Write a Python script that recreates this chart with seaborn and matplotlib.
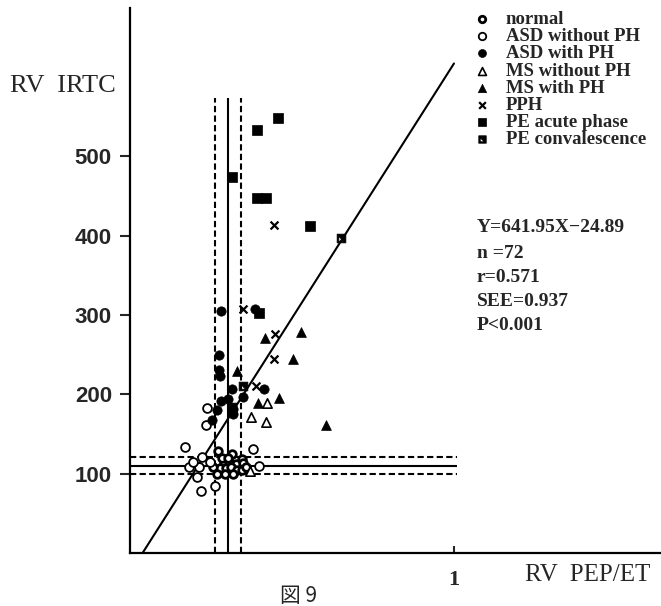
import numpy as np
import pandas as pd
import matplotlib
matplotlib.use("Agg")
import matplotlib.pyplot as plt
import seaborn as sns
from matplotlib.path import Path

# ---------------- data ----------------
normal_x = [0.272, 0.315, 0.346, 0.290, 0.306, 0.327, 0.278, 0.296, 0.312, 0.330,
            0.269, 0.293, 0.318, 0.346, 0.349, 0.284, 0.302, 0.358, 0.256]
normal_y = [128, 125, 119, 113, 115, 112, 107, 107, 108, 104,
            100, 100, 100, 105, 113, 120, 120, 109, 109]

asd_nph_x = [0.237, 0.234, 0.170, 0.379, 0.219, 0.262, 0.206, 0.183, 0.214, 0.221,
             0.195, 0.399, 0.247]
asd_nph_y = [183, 161, 134, 131, 78, 85, 96, 109, 108, 121, 115, 110, 115]

asd_ph_x = [0.281, 0.386, 0.275, 0.275, 0.278, 0.315, 0.414, 0.349, 0.281, 0.302,
            0.269, 0.318, 0.318, 0.253]
asd_ph_y = [305, 308, 250, 231, 223, 207, 207, 197, 191, 194, 180, 182, 175, 168]

ms_nph_x = [0.422, 0.372, 0.419, 0.370]
ms_nph_y = [189, 171, 165, 103]

ms_ph_x = [0.417, 0.527, 0.503, 0.330, 0.394, 0.459, 0.605]
ms_ph_y = [271, 278, 245, 230, 189, 196, 161]

pph_x = [0.444, 0.348, 0.448, 0.445, 0.389]
pph_y = [414, 308, 276, 244, 210]

pe_acute_x = [0.392, 0.457, 0.315, 0.392, 0.420, 0.556, 0.398]
pe_acute_y = [533, 548, 474, 447, 447, 412, 302]

pe_conv_x = [0.651, 0.349, 0.315]
pe_conv_y = [397, 211, 184]

group_labels = ["normal", "ASD without PH", "ASD with PH", "MS without PH",
                "MS with PH", "PPH", "PE acute phase", "PE convalescence"]

reg_slope = 641.95
reg_intercept = -24.89
reg_x_range = [0.039, 1.0]

norm_pep_et = [0.262, 0.303, 0.342]      # mean-SD, mean, mean+SD
norm_irtc = [100, 110, 121]              # mean-SD, mean, mean+SD

y_ticks = [100, 200, 300, 400, 500]
x_ticks = [1]

stats_lines = ["Y=641.95X\u221224.89", "n =72", "r=0.571", "SEE=0.937", "P<0.001"]

# ---------------- build dataframe ----------------
xs = [normal_x, asd_nph_x, asd_ph_x, ms_nph_x, ms_ph_x, pph_x, pe_acute_x, pe_conv_x]
ys = [normal_y, asd_nph_y, asd_ph_y, ms_nph_y, ms_ph_y, pph_y, pe_acute_y, pe_conv_y]
frames = []
for lab, gx, gy in zip(group_labels, xs, ys):
    frames.append(pd.DataFrame({"x": gx, "y": gy, "group": lab}))
df = pd.concat(frames, ignore_index=True)

# half-filled square marker (square with white lower-left triangle)
sq = [(-1, -1), (1, -1), (1, 1), (-1, 1), (-1, -1)]
tri = [(-0.6, -0.6), (-0.6, 0.45), (0.45, -0.6), (-0.6, -0.6)]
verts = sq + tri
codes = [Path.MOVETO] + [Path.LINETO] * 3 + [Path.CLOSEPOLY] + \
        [Path.MOVETO, Path.LINETO, Path.LINETO, Path.CLOSEPOLY]
half_sq = Path(verts, codes)

styles = {
    "normal": dict(marker="o", s=30, color="white", edgecolor="black", linewidth=2.0),
    "ASD without PH": dict(marker="o", s=40, color="white", edgecolor="black", linewidth=1.3),
    "ASD with PH": dict(marker="o", s=45, color="black", edgecolor="black", linewidth=0.5),
    "MS without PH": dict(marker="^", s=45, color="white", edgecolor="black", linewidth=1.2),
    "MS with PH": dict(marker="^", s=50, color="black", edgecolor="black", linewidth=0.5),
    "PPH": dict(marker="x", s=32, color="black", linewidth=1.6),
    "PE acute phase": dict(marker="s", s=42, color="black", edgecolor="black", linewidth=0.5),
    "PE convalescence": dict(marker=half_sq, s=40, color="black", edgecolor="black", linewidth=0.5),
}

# ---------------- figure ----------------
sns.set_style("white")
plt.rcParams["font.family"] = ["Liberation Serif", "DejaVu Serif"]

W, H = 661, 606
fig = plt.figure(figsize=(W / 100, H / 100), dpi=100)
ax = fig.add_axes([130 / W, 1 - 553 / H, (W - 130) / W, (553 - 8) / H])

# normal ranges
ls_dash = (0, (3.0, 1.6))
for i, xv in enumerate(norm_pep_et):
    ax.vlines(xv, 0, 574, colors="black", linewidth=1.5,
              linestyles="solid" if i == 1 else ls_dash, zorder=1)
for i, yv in enumerate(norm_irtc):
    ax.hlines(yv, 0, 1.01, colors="black", linewidth=1.5,
              linestyles="solid" if i == 1 else ls_dash, zorder=1)

# regression line
reg_x = np.array(reg_x_range)
reg_df = pd.DataFrame({"x": reg_x, "y": reg_slope * reg_x + reg_intercept})
sns.lineplot(data=reg_df, x="x", y="y", color="black", linewidth=1.5, ax=ax, zorder=2)

# scatter groups
for lab in group_labels:
    sub = df[df["group"] == lab]
    sns.scatterplot(data=sub, x="x", y="y", ax=ax, label=lab, zorder=3, **styles[lab])

ax.set_xlim(0, 1.639)
ax.set_ylim(0, 687)
ax.set_xlabel("")
ax.set_ylabel("")

for side in ["top", "right"]:
    ax.spines[side].set_visible(False)
for side in ["left", "bottom"]:
    ax.spines[side].set_linewidth(1.6)
    ax.spines[side].set_color("black")

ax.set_yticks(y_ticks)
ax.set_yticklabels([str(v) for v in y_ticks],
                   family=["Liberation Sans Narrow", "Liberation Sans", "DejaVu Sans"],
                   fontsize=16, fontweight="bold")
ax.tick_params(axis="y", direction="out", length=7, width=1.5, pad=6, left=True)
ax.set_xticks(x_ticks)
ax.set_xticklabels([str(v) for v in x_ticks], fontsize=16, fontweight="bold")
ax.tick_params(axis="x", direction="in", length=5, width=1.5, pad=12, bottom=True)

# legend
leg = ax.legend(loc="upper left", bbox_to_anchor=(474 / W, 1 - 11 / H),
                bbox_transform=fig.transFigure, frameon=False,
                prop={"family": "Liberation Serif", "weight": "bold", "size": 13.5},
                handlelength=0.9, handletextpad=0.8, labelspacing=0.0,
                borderpad=0, borderaxespad=0, markerscale=0.85)

# axis titles
fig.text(10 / W, 1 - 86 / H, "RV  IRTC", ha="left", va="center", fontsize=19)
fig.text(588 / W, 1 - 575 / H, "RV  PEP/ET", ha="center", va="center", fontsize=18)

# statistics
stat_y = [227, 253, 277, 302, 325]
for t, yy in zip(stats_lines, stat_y):
    fig.text(477 / W, 1 - yy / H, t, ha="left", va="center",
             fontsize=14, fontweight="bold")

# caption
fig.text(299 / W, 1 - 596 / H, "図 9", ha="center", va="center", fontsize=15,
         family=["Noto Sans CJK JP", "DejaVu Sans"])

fig.savefig("out.png", dpi=100)
